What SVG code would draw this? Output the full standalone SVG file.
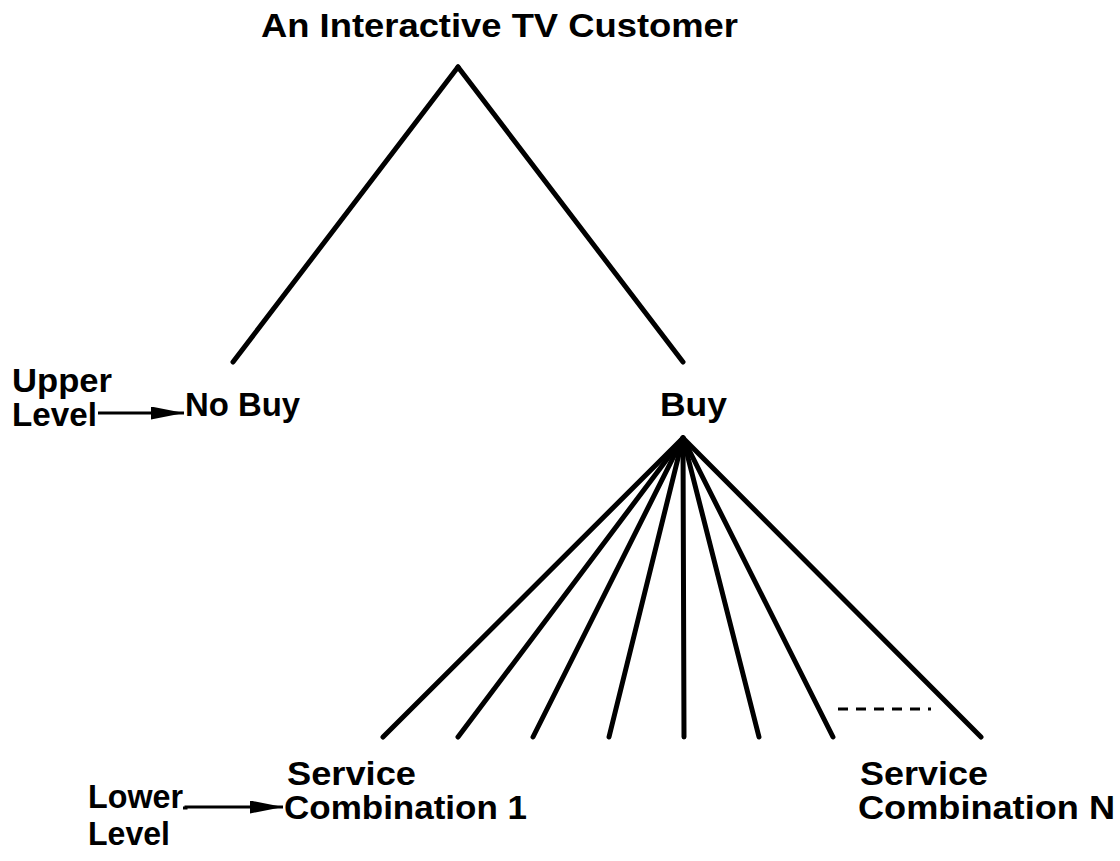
<svg xmlns="http://www.w3.org/2000/svg" width="1120" height="861" viewBox="0 0 1120 861">
  <defs>
    <style>
      .lbl { font-family: "Liberation Sans", Arial, sans-serif; font-weight: bold; font-size: 33px; fill: #000; }
      .edge { stroke: #000; stroke-width: 5; stroke-linecap: round; fill: none; }
      .ptr { stroke: #000; stroke-width: 3; fill: none; }
    </style>
    <marker id="head" viewBox="0 0 33 13" refX="33" refY="6.5" markerWidth="33" markerHeight="13" markerUnits="userSpaceOnUse" orient="auto">
      <path d="M0,0 L33,6.5 L0,13 Z" fill="#000"/>
    </marker>
  </defs>
  <rect width="1120" height="861" fill="#fff"/>

  <!-- tree branches and level pointers -->
  <g id="connectors">
    <line class="edge" x1="458" y1="67" x2="233" y2="362"/>
    <line class="edge" x1="458" y1="67" x2="683" y2="362"/>
    <line class="edge" x1="683" y1="438" x2="383" y2="737"/>
    <line class="edge" x1="683" y1="438" x2="458" y2="737"/>
    <line class="edge" x1="683" y1="438" x2="533" y2="737"/>
    <line class="edge" x1="683" y1="438" x2="609" y2="737"/>
    <line class="edge" x1="683" y1="438" x2="684" y2="737"/>
    <line class="edge" x1="683" y1="438" x2="759" y2="737"/>
    <line class="edge" x1="683" y1="438" x2="833" y2="737"/>
    <line class="edge" x1="683" y1="438" x2="981" y2="737"/>
    <line x1="838" y1="709" x2="931" y2="709" stroke="#000" stroke-width="3" stroke-dasharray="10,8"/>
    <line class="ptr" x1="98" y1="413" x2="184" y2="413" marker-end="url(#head)"/>
    <path class="ptr" d="M183,808 L186,808 L186,807 L283,807" marker-end="url(#head)"/>
  </g>

  <g id="root">
    <text class="lbl" x="261" y="37" textLength="477" lengthAdjust="spacingAndGlyphs">An Interactive TV Customer</text>
  </g>
  <g id="no-buy">
    <text class="lbl" x="185" y="416" textLength="115" lengthAdjust="spacingAndGlyphs">No Buy</text>
  </g>
  <g id="buy">
    <text class="lbl" x="660" y="416" textLength="67" lengthAdjust="spacingAndGlyphs">Buy</text>
  </g>
  <g id="upper-level">
    <text class="lbl" x="12" y="392" textLength="100" lengthAdjust="spacingAndGlyphs">Upper</text>
    <text class="lbl" x="12" y="426" textLength="85" lengthAdjust="spacingAndGlyphs">Level</text>
  </g>
  <g id="service-1">
    <text class="lbl" x="287" y="785" textLength="129" lengthAdjust="spacingAndGlyphs">Service</text>
    <text class="lbl" x="284" y="819" textLength="243" lengthAdjust="spacingAndGlyphs">Combination 1</text>
  </g>
  <g id="service-n">
    <text class="lbl" x="860" y="785" textLength="128" lengthAdjust="spacingAndGlyphs">Service</text>
    <text class="lbl" x="858" y="819" textLength="257" lengthAdjust="spacingAndGlyphs">Combination N</text>
  </g>
  <g id="lower-level">
    <text class="lbl" x="88" y="808" textLength="95" lengthAdjust="spacingAndGlyphs">Lower</text>
    <text class="lbl" x="88" y="845" textLength="82" lengthAdjust="spacingAndGlyphs">Level</text>
  </g>
</svg>
